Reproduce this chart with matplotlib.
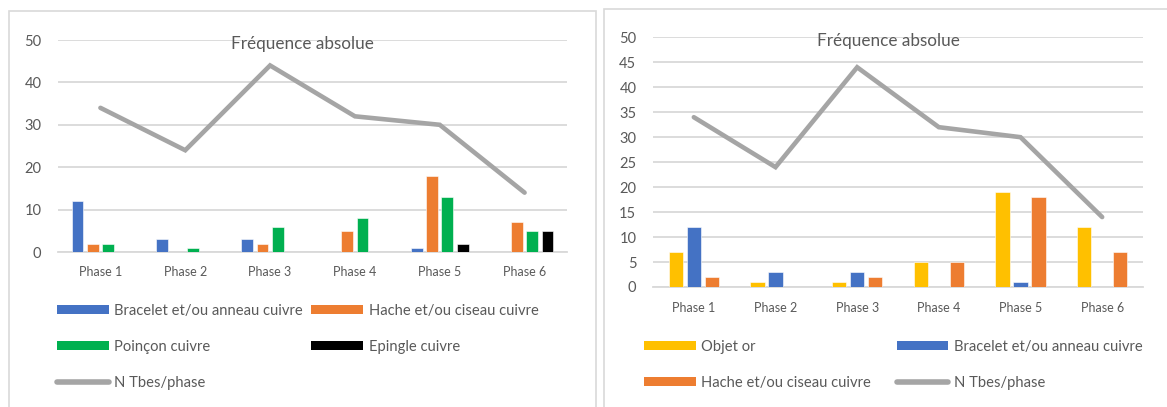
import matplotlib
matplotlib.use("Agg")
import matplotlib.pyplot as plt
from matplotlib.patches import Rectangle, Patch
from matplotlib.lines import Line2D
import numpy as np

plt.rcParams['font.family'] = ['Lato', 'DejaVu Sans']

# ---------------- data ----------------
phases = ["Phase 1", "Phase 2", "Phase 3", "Phase 4", "Phase 5", "Phase 6"]
n_tbes = [34, 24, 44, 32, 30, 14]
bracelet = [12, 3, 3, 0, 1, 0]
hache = [2, 0, 2, 5, 18, 7]
poincon = [2, 1, 6, 8, 13, 5]
epingle = [0, 0, 0, 0, 2, 5]
objet_or = [7, 1, 1, 5, 19, 12]

left_series = [
    ("Bracelet et/ou anneau cuivre", bracelet, "#4472C4"),
    ("Hache et/ou ciseau cuivre", hache, "#ED7D31"),
    ("Poinçon cuivre", poincon, "#00B050"),
    ("Epingle cuivre", epingle, "#000000"),
]
right_series = [
    ("Objet or", objet_or, "#FFC000"),
    ("Bracelet et/ou anneau cuivre", bracelet, "#4472C4"),
    ("Hache et/ou ciseau cuivre", hache, "#ED7D31"),
]
line_label = "N Tbes/phase"
title = "Fréquence absolue"
left_yticks = [0, 10, 20, 30, 40, 50]
right_yticks = [0, 5, 10, 15, 20, 25, 30, 35, 40, 45, 50]

TXT = "#595959"
GRID = "#D9D9D9"
LINEC = "#A5A5A5"

W, H = 1167, 407
fig = plt.figure(figsize=(W / 100, H / 100), dpi=100)

def fx(px):
    return px / W

def fy(py):
    return 1 - py / H

# panel borders
fig.add_artist(Rectangle((fx(8.5), fy(440)), fx(596) - fx(8.5), fy(11) - fy(440),
                         transform=fig.transFigure, fill=False, ec=GRID, lw=1.2))
fig.add_artist(Rectangle((fx(604), fy(440)), fx(1200) - fx(604), fy(8.5) - fy(440),
                         transform=fig.transFigure, fill=False, ec=GRID, lw=1.2))


def make_axes(rect, series, width, step, yticks, title_xy, tick_pad):
    ax = fig.add_axes(rect)
    x = np.arange(len(phases))
    n = len(series)
    for i, (lab, vals, col) in enumerate(series):
        ax.bar(x + (i - (n - 1) / 2) * step, vals, width=width, color=col,
               label=lab, zorder=3, edgecolor="white", linewidth=0.4)
    ax.plot(x, n_tbes, color=LINEC, lw=3.3, solid_capstyle="round",
            solid_joinstyle="miter", zorder=4, label=line_label)
    ax.set_xlim(-0.5, len(phases) - 0.5)
    ax.set_ylim(0, 50)
    ax.set_yticks(yticks)
    ax.set_xticks(x)
    ax.set_xticklabels(phases)
    ax.yaxis.grid(True, color=GRID, lw=1.3, zorder=0)
    ax.set_axisbelow(True)
    for s in ["top", "right", "left"]:
        ax.spines[s].set_visible(False)
    ax.spines["bottom"].set_color(GRID)
    ax.spines["bottom"].set_linewidth(1.3)
    ax.tick_params(axis="both", length=0, colors=TXT)
    ax.tick_params(axis="y", labelsize=10.5, pad=12)
    ax.tick_params(axis="x", labelsize=9, pad=tick_pad)
    fig.text(fx(title_xy[0]), fy(title_xy[1]), title, ha="center", va="center",
             fontsize=12.3, color=TXT)
    return ax


axL = make_axes([fx(58), fy(252), fx(567) - fx(58), fy(40) - fy(252)],
                left_series, 0.14, 0.18, left_yticks, (302, 44), 10)
axR = make_axes([fx(653), fy(287), fx(1143) - fx(653), fy(37.3) - fy(287)],
                right_series, 0.175, 0.22, right_yticks, (888, 41), 11)

# legends
def handle_patch(col):
    return Patch(facecolor=col, edgecolor="none")

line_handle = Line2D([0], [0], color=LINEC, lw=4, solid_capstyle="round")

LFS = 10.6
hL = [handle_patch(left_series[0][2]), handle_patch(left_series[2][2]), line_handle,
      handle_patch(left_series[1][2]), handle_patch(left_series[3][2])]
lL = [left_series[0][0], left_series[2][0], line_label, left_series[1][0], left_series[3][0]]
legL = fig.legend(hL, lL, ncol=2, loc="upper left", bbox_to_anchor=(fx(57), fy(304)),
                  frameon=False, fontsize=LFS, handlelength=3.5, handleheight=0.57,
                  handletextpad=0.4, columnspacing=0.55, labelspacing=1.5,
                  labelcolor=TXT, borderaxespad=0, borderpad=0)

hR = [handle_patch(right_series[0][2]), handle_patch(right_series[2][2]),
      handle_patch(right_series[1][2]), line_handle]
lR = [right_series[0][0], right_series[2][0], right_series[1][0], line_label]
legR = fig.legend(hR, lR, ncol=2, loc="upper left", bbox_to_anchor=(fx(644), fy(340)),
                  frameon=False, fontsize=LFS, handlelength=3.5, handleheight=0.57,
                  handletextpad=0.4, columnspacing=1.72, labelspacing=1.5,
                  labelcolor=TXT, borderaxespad=0, borderpad=0)

fig.savefig("out.png", dpi=100)
